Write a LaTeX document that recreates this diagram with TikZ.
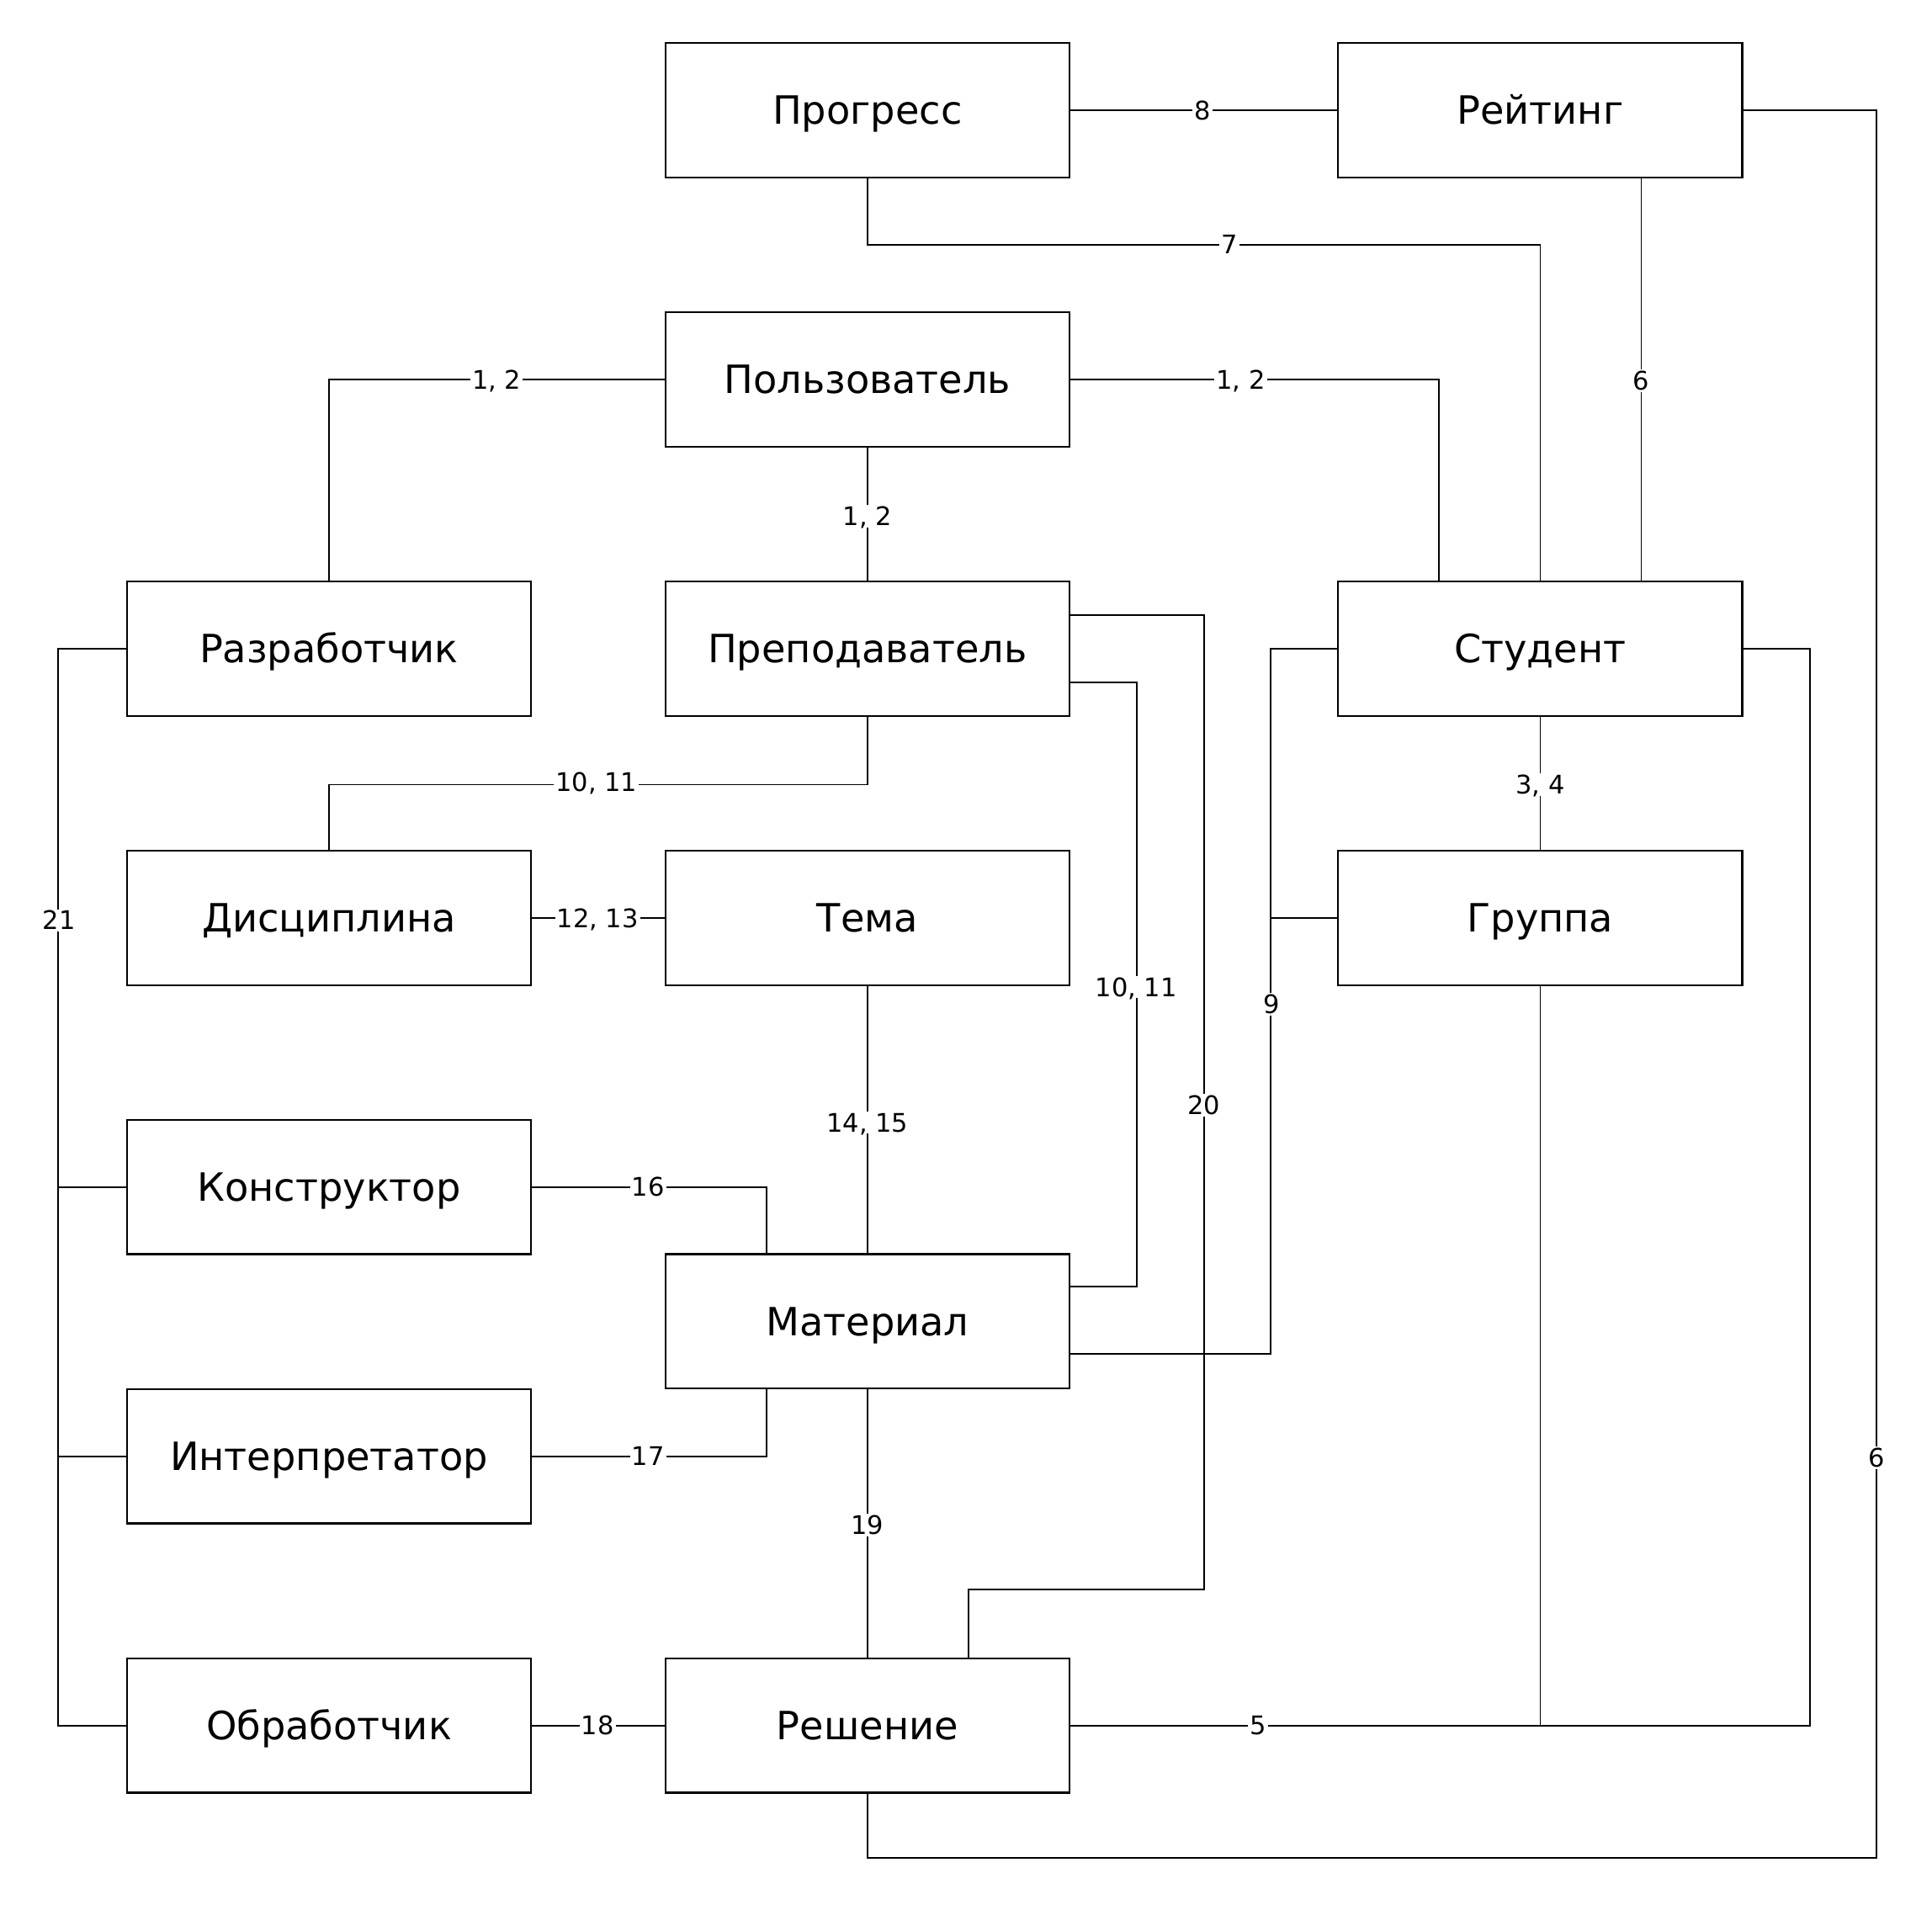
\documentclass[tikz,border=0pt]{standalone}
\usepackage{fontspec}
\setmainfont{DejaVu Sans}
\usetikzlibrary{calc}
\begin{document}
\begin{tikzpicture}[x=1pt,y=-1pt,
 ent/.style={draw,line width=1.6pt,minimum width=328pt,minimum height=109pt,inner sep=0pt,text height=23pt,text depth=0pt,font=\fontsize{31.6}{36}\selectfont},
 wire/.style={line width=1.2pt},
 lbl/.style={fill=white,inner sep=1.5pt,text height=15.2pt,text depth=0pt,font=\fontsize{20.8}{24}\selectfont}]
\fill[white] (0,0) rectangle (1568,1546);
\useasboundingbox (0,0) rectangle (1568,1546);
% entities
\node[ent] (prog) at (704,89.5) {Прогресс};
\node[ent] (rate) at (1250,89.5) {Рейтинг};
\node[ent] (user) at (704,308) {Пользователь};
\node[ent] (dev) at (267,526.5) {Разработчик};
\node[ent] (prep) at (704,526.5) {Преподаватель};
\node[ent] (stud) at (1250,526.5) {Студент};
\node[ent] (disc) at (267,745) {Дисциплина};
\node[ent] (tema) at (704,745) {Тема};
\node[ent] (grp) at (1250,745) {Группа};
\node[ent] (kons) at (267,963.5) {Конструктор};
\node[ent] (mat) at (704,1072.5) {Материал};
\node[ent] (interp) at (267,1182) {Интерпретатор};
\node[ent] (obr) at (267,1400.5) {Обработчик};
\node[ent] (resh) at (704,1400.5) {Решение};
% helper coordinates
\coordinate (c6) at (1523,1508);
\coordinate (c20) at (977,1290);
% connectors
\draw[wire] (user.west) -| (dev.north);
\draw[wire] (user.east) -| ($(stud.north)+(-82,0)$);
\draw[wire] (user.south) -- (prep.north);
\draw[wire] (prog.east) -- (rate.west);
\draw[wire] (prog.south) -- ++(0,54) -| (stud.north);
\draw[wire] ($(rate.south)+(82,0)$) -- ($(stud.north)+(82,0)$);
\draw[wire] (rate.east) -| (c6) -| (resh.south);
\draw[wire] (prep.south) -- ++(0,55) -| (disc.north);
\draw[wire] ($(prep.east)+(0,-27.5)$) -| (c20) -| ($(resh.north)+(82,0)$);
\draw[wire] ($(prep.east)+(0,27.5)$) -- ++(54,0) |- ($(mat.east)+(0,-28.5)$);
\draw[wire] (stud.west) -- ++(-54,0) |- ($(mat.east)+(0,26.5)$);
\draw[wire] (grp.west) -- ++(-54,0);
\draw[wire] (stud.south) -- (grp.north);
\draw[wire] (stud.east) -- ++(54,0) |- (resh.east);
\draw[wire] (grp.south) -- (grp.south |- resh.east);
\draw[wire] (disc.east) -- (tema.west);
\draw[wire] (tema.south) -- (mat.north);
\draw[wire] (kons.east) -| ($(mat.north)+(-82,0)$);
\draw[wire] (interp.east) -| ($(mat.south)+(-82,0)$);
\draw[wire] (mat.south) -- (resh.north);
\draw[wire] (obr.east) -- (resh.west);
\draw[wire] (dev.west) -- ++(-55,0) |- (obr.west);
\draw[wire] (kons.west) -- ++(-55,0);
\draw[wire] (interp.west) -- ++(-55,0);
% labels
\node[lbl] (l1) at (403,308) {1, 2};
\node[lbl] (l2) at (1007,308) {1, 2};
\node[lbl] (l3) at (704,419) {1, 2};
\node[lbl] (l4) at (976,89.5) {8};
\node[lbl] (l5) at (998,198) {7};
\node[lbl] (l6) at (1332,309) {6};
\node[lbl] (l7) at (1523,1183) {6};
\node[lbl] (l8) at (484,635) {10, 11};
\node[lbl] (l9) at (977,897) {20};
\node[lbl] (l10) at (922,801) {10, 11};
\node[lbl] (l11) at (1032,815) {9};
\node[lbl] (l12) at (1250,637) {3, 4};
\node[lbl] (l13) at (1021,1400.5) {5};
\node[lbl] (l14) at (485,745) {12, 13};
\node[lbl] (l15) at (704,911) {14, 15};
\node[lbl] (l16) at (526,963.5) {16};
\node[lbl] (l17) at (526,1182) {17};
\node[lbl] (l18) at (704,1238) {19};
\node[lbl] (l19) at (485,1400.5) {18};
\node[lbl] (l20) at (48,747) {21};
\end{tikzpicture}
\end{document}
